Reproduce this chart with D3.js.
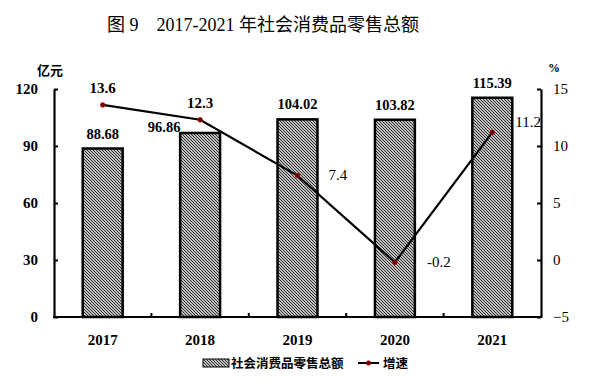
<!DOCTYPE html>
<html><head><meta charset="utf-8">
<script src="https://cdn.jsdelivr.net/npm/d3@7"></script>
<style>body{margin:0;background:#fff}svg{display:block}</style>
</head><body>
<script>
const years = ["2017","2018","2019","2020","2021"];
const retailSales = [88.68, 96.86, 104.02, 103.82, 115.39];
const growthRate = [13.6, 12.3, 7.4, -0.2, 11.2];
const leftTicks = [0, 30, 60, 90, 120];
const rightTicks = [-5, 0, 5, 10, 15];
const titleText = "图 9\u30002017-2021 年社会消费品零售总额";
const seriesNames = ["社会消费品零售总额", "增速"];
const leftUnit = "亿元", rightUnit = "%";

const W = 597, H = 389;
const serif = "'Liberation Serif','Times New Roman',serif";
const cjk = "'Noto Sans CJK SC','Noto Sans',sans-serif";
const svg = d3.select("body").append("svg").attr("width", W).attr("height", H);

const defs = svg.append("defs");
const pat = defs.append("pattern").attr("id","hatch").attr("patternUnits","userSpaceOnUse")
  .attr("width",3).attr("height",3);
pat.append("rect").attr("width",3).attr("height",3).attr("fill","#fff");
pat.append("path").attr("d","M-1,2 L1,4 M0,0 L3,3 M2,-1 L4,1")
  .attr("stroke","#222").attr("stroke-width",1.1);

const x = d3.scaleBand().domain(years).range([54, 541]).paddingInner(0.59).paddingOuter(0.295);
const yL = d3.scaleLinear().domain([0,120]).range([317,89]);
const yR = d3.scaleLinear().domain([-5,15]).range([317,89]);

// title
svg.append("text").attr("x",107).attr("y",31).attr("font-family",serif+","+cjk)
  .attr("font-size",18).attr("fill","#000").style("white-space","pre").text(titleText);

// bars
svg.append("g").selectAll("rect").data(years).join("rect")
  .attr("x", d=>x(d)).attr("width", x.bandwidth())
  .attr("y", (d,i)=>yL(retailSales[i])).attr("height",(d,i)=>yL(0)-yL(retailSales[i]))
  .attr("fill","url(#hatch)").attr("stroke","#000").attr("stroke-width",2.5);

// left axis
const gL = svg.append("g").attr("transform","translate(54,0)")
  .call(d3.axisLeft(yL).tickValues(leftTicks).tickSize(-4).tickSizeOuter(0).tickPadding(16));
// right axis
const gR = svg.append("g").attr("transform","translate(541,0)")
  .call(d3.axisRight(yR).tickValues(rightTicks).tickSize(-4).tickSizeOuter(0).tickPadding(12));
[gL,gR].forEach(g=>{
  g.select(".domain").attr("stroke","#000").attr("stroke-width",2.2);
  g.selectAll(".tick line").attr("stroke","#000").attr("stroke-width",2);
  g.selectAll(".tick text").attr("fill","#000").attr("font-family",serif).attr("font-size",15);
});
gL.selectAll(".tick text").attr("font-weight","bold");

// bottom axis
const xb = svg.append("g");
xb.append("line").attr("x1",53).attr("x2",542).attr("y1",yL(0)).attr("y2",yL(0))
  .attr("stroke","#000").attr("stroke-width",2.2);
const step = x.step();
const bounds = years.slice(1).map(d=>x(d) - x.paddingInner()*step/2 - 0);
xb.selectAll("line.t").data(years.slice(1)).join("line").attr("class","t")
  .attr("x1",d=>x(d)-(step-x.bandwidth())/2).attr("x2",d=>x(d)-(step-x.bandwidth())/2)
  .attr("y1",yL(0)).attr("y2",yL(0)-4).attr("stroke","#000").attr("stroke-width",2);
xb.selectAll("text").data(years).join("text")
  .attr("x",d=>x(d)+x.bandwidth()/2).attr("y",345).attr("text-anchor","middle")
  .attr("font-family",serif).attr("font-size",15).attr("font-weight","bold").text(d=>d);

// unit labels
svg.append("text").attr("x",50).attr("y",75).attr("text-anchor","middle")
  .attr("font-family",cjk).attr("font-weight","bold").attr("font-size",13).text(leftUnit);
svg.append("text").attr("x",554).attr("y",72).attr("text-anchor","middle")
  .attr("font-family",serif).attr("font-weight","bold").attr("font-size",12).text(rightUnit);

// bar labels
const barLabelShift = [[0,-10],[-36,-1],[0,-10],[0,-10],[0,-10]];
svg.append("g").selectAll("text").data(years).join("text")
  .attr("x",(d,i)=>x(d)+x.bandwidth()/2+barLabelShift[i][0])
  .attr("y",(d,i)=>yL(retailSales[i])+barLabelShift[i][1])
  .attr("text-anchor","middle").attr("font-family",serif).attr("font-size",14.5)
  .attr("font-weight","bold").text((d,i)=>retailSales[i].toFixed(2));

// line
const cx = d=>x(d)+x.bandwidth()/2;
const line = d3.line().x((d,i)=>cx(years[i])).y(d=>yR(d));
svg.append("path").datum(growthRate).attr("d",line).attr("fill","none")
  .attr("stroke","#000").attr("stroke-width",2.2);
svg.append("g").selectAll("circle").data(growthRate).join("circle")
  .attr("cx",(d,i)=>cx(years[i])).attr("cy",d=>yR(d)).attr("r",2.3)
  .attr("fill","#5a0000").attr("stroke","#c00000").attr("stroke-width",0.8);

// growth labels
const gLab = [
  {dx:0, dy:-12, anchor:"middle", bold:true},
  {dx:0, dy:-12, anchor:"middle", bold:true},
  {dx:31, dy:4, anchor:"start", bold:false},
  {dx:32, dy:5, anchor:"start", bold:false},
  {dx:23, dy:-5, anchor:"start", bold:false}
];
svg.append("g").selectAll("text").data(growthRate).join("text")
  .attr("x",(d,i)=>cx(years[i])+gLab[i].dx).attr("y",(d,i)=>yR(d)+gLab[i].dy)
  .attr("text-anchor",(d,i)=>gLab[i].anchor).attr("font-family",serif).attr("font-size",15)
  .attr("font-weight",(d,i)=>gLab[i].bold?"bold":"normal")
  .text(d=>d.toFixed(1).replace("-","-"));

// legend
const lg = svg.append("g");
lg.append("rect").attr("x",203).attr("y",359).attr("width",26).attr("height",8)
  .attr("fill","url(#hatch)").attr("stroke","#000").attr("stroke-width",1);
lg.append("text").attr("x",231).attr("y",368).attr("font-family",cjk).attr("font-weight","bold")
  .attr("font-size",12.5).text(seriesNames[0]);
lg.append("line").attr("x1",358).attr("x2",379).attr("y1",363).attr("y2",363)
  .attr("stroke","#000").attr("stroke-width",2);
lg.append("circle").attr("cx",368.5).attr("cy",363).attr("r",2.2)
  .attr("fill","#5a0000").attr("stroke","#c00000").attr("stroke-width",0.8);
lg.append("text").attr("x",383).attr("y",368).attr("font-family",cjk).attr("font-weight","bold")
  .attr("font-size",12.5).text(seriesNames[1]);
</script>
</body></html>
